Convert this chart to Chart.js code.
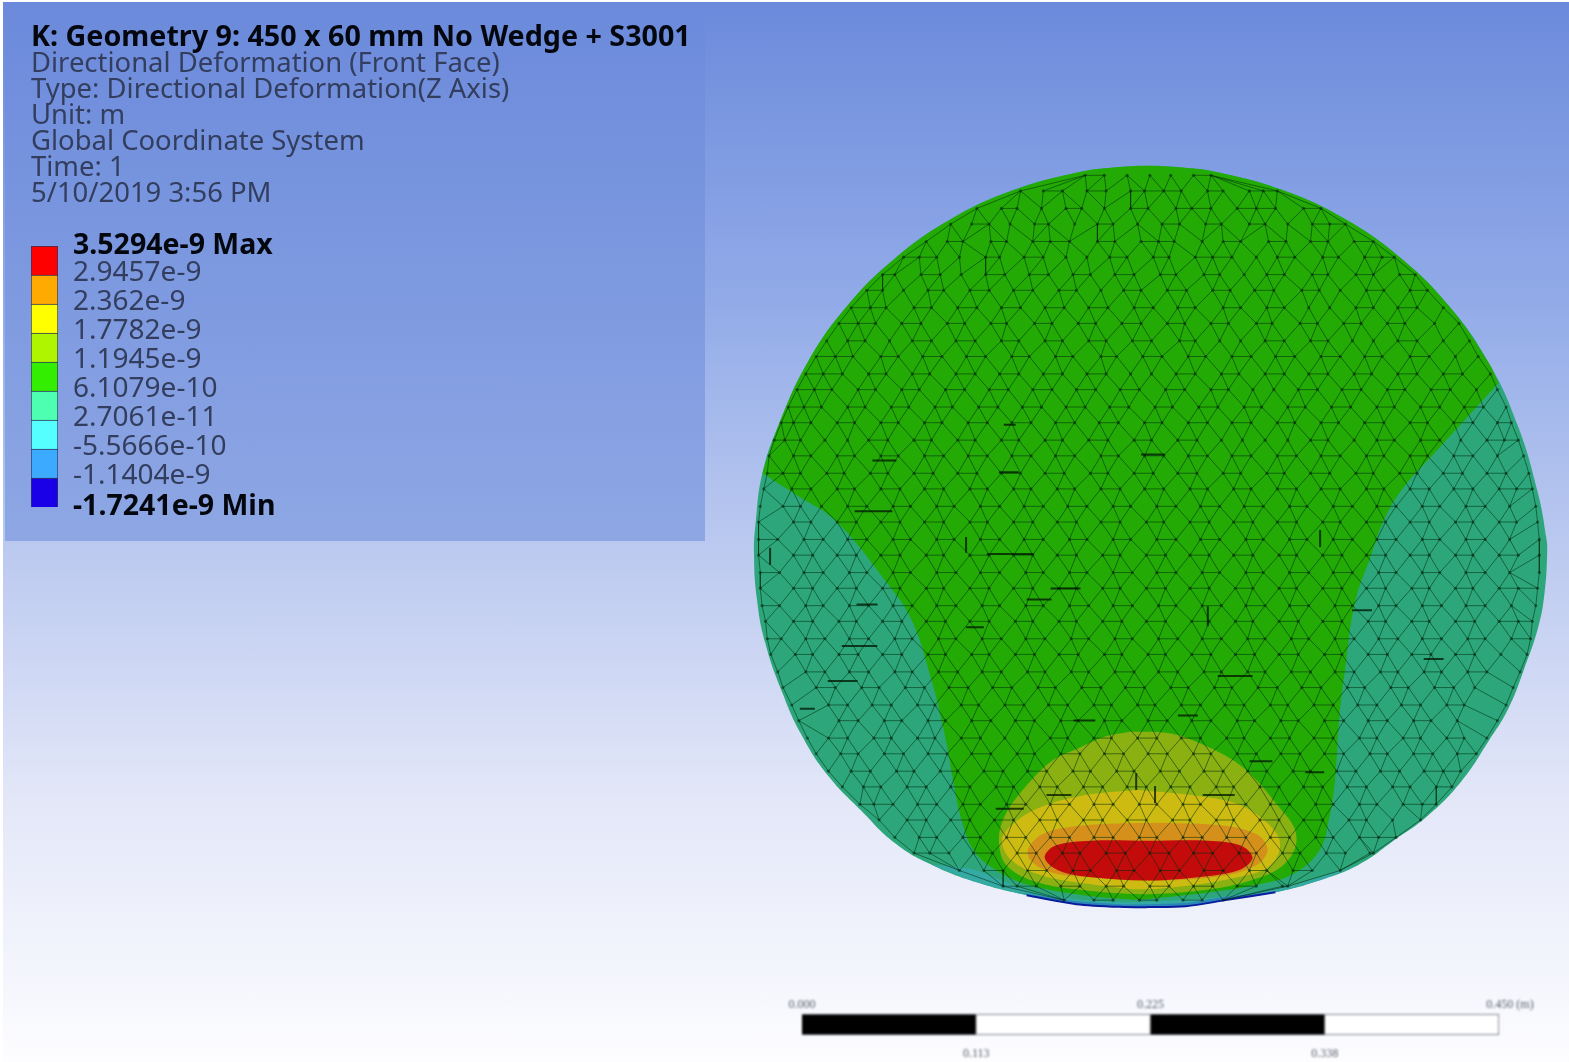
<!DOCTYPE html>
<html>
<head>
<meta charset="utf-8">
<title>Directional Deformation</title>
<script src="https://cdn.jsdelivr.net/npm/chart.js@4"></script>
<style>
  html, body { margin: 0; padding: 0; background: #fff; overflow: hidden; }
  #stage {
    position: relative; width: 1569px; height: 1062px; overflow: hidden;
    filter: blur(0.75px);
  }
  #bg {
    position: absolute; left: 3px; top: 2px; right: 0; bottom: 0;
    background: linear-gradient(#6b8adb 0, #92abe8 300px, #bccaf0 550px, #e3e7f8 800px, #fdfdff 1060px);
  }
  #panel {
    position: absolute; left: 5px; top: 2px; width: 700px; height: 539px;
    background: linear-gradient(#6b8adb, #8ea7e4);
  }
  canvas { position: absolute; display: block; }
  #scaleBar { filter: blur(0.8px); }
  #header { position: absolute; left: 31px; top: 22px; font-family: "Noto Sans", sans-serif; white-space: nowrap; }
  #header div { height: 26px; line-height: 26px; font-size: 28px; color: #333e5e; transform-origin: left center; transform: scaleX(0.98); }
  #header div.title { font-weight: 700; color: #05070f; transform: scaleX(1.024); }
</style>
</head>
<body>
<div id="stage">
  <div id="bg"></div>
  <div id="panel"></div>
  <canvas id="contour" width="1569" height="1062" style="left:0;top:0"></canvas>
  <div id="header"></div>
  <canvas id="legendBar" width="400" height="300" style="left:0;top:225px"></canvas>
  <canvas id="scaleBar" width="799" height="72" style="left:770px;top:990px"></canvas>
</div>

<script>
// --- Text ---
const headerLines = [
    'K: Geometry 9: 450 x 60 mm No Wedge + S3001',
    'Directional Deformation (Front Face)',
    'Type: Directional Deformation(Z Axis)',
    'Unit: m',
    'Global Coordinate System',
    'Time: 1',
    '5/10/2019 3:56 PM'
];

// --- Legend, bottom to top ---
const legendLabels = ['-1.7241e-9 Min', '-1.1404e-9', '-5.5666e-10', '2.7061e-11', '6.1079e-10', '1.1945e-9', '1.7782e-9', '2.362e-9', '2.9457e-9', '3.5294e-9 Max'];
const legendColors = ['#1a00e6', '#3cabff', '#55ffff', '#4dffb0', '#33ee00', '#b0f500', '#ffff00', '#ffaa00', '#ff0000'];

// --- Scale bar ---
const scaleSegments = [0.1125, 0.1125, 0.1125, 0.1125];
const scaleColors = ['#000000', '#ffffff', '#000000', '#ffffff'];
const scaleTopValues = [0, 0.225, 0.45];
const scaleTopLabels = ['0.000', '0.225', '0.450 (m)'];
const scaleBottomValues = [0.1125, 0.3375];
const scaleBottomLabels = ['0.113', '0.338'];

// --- Contour bands, model coordinates in mm ---
const discX = [0, 19.6, 39.1, 77, 112.5, 144.6, 172.4, 194.9, 211.4, 223, 228, 228.5, 227, 223.5, 215.3, 206.2, 194.8, 179.4, 160.6, 141.3, 120.8, 99.7, 72.9, 44.4, 21.6, 0, -12.5, -41, -69.5, -98, -124.2, -145.2, -164, -183.4, -198.2, -209.6, -219.3, -223.9, -225.6, -224.6, -220.8, -211.4, -194.9, -172.4, -144.6, -112.5, -77, -39.1, -19.6, 0];
const discY = [212.5, 211.5, 208.9, 198.5, 182, 159.5, 131.8, 99.6, 64, 25.4, -1.1, -9.7, -32.5, -51.8, -76.3, -99.1, -117.9, -140.7, -160.1, -174.3, -188.5, -197.1, -204.5, -209, -212.5, -213, -213, -211.3, -206.2, -198.8, -188.5, -176, -157.8, -137.3, -114.5, -89.4, -60.9, -36.5, -9.7, 8, 36, 64, 99.6, 131.8, 159.5, 182, 198.5, 208.9, 211.5, 212.5];

// Corner points are listed twice so the curve turns sharply there
const greenX = [-220.8, -220.8, -201.1, -179.4, -150.9, -135.6, -124.2, -116.8, -111.1, -107.1, -99.7, -86.6, -69.5, -41, -12.5, -2.8, 35.3, 63.8, 82.6, 98, 103.7, 107.1, 109.4, 112.8, 118.5, 128.2, 135, 145.8, 166.3, 200.5, 200.5, 194.9, 172.4, 144.6, 112.5, 77, 39.1, 19.6, 0, -19.6, -39.1, -77, -112.5, -144.6, -172.4, -194.9, -211.4, -220.8, -220.8];
const greenY = [36, 36, 23.4, 9.1, -25.1, -47.8, -82, -112.2, -143, -161.8, -180.6, -192, -199.9, -205.6, -208.5, -208.5, -204.5, -199.9, -194.2, -180.6, -161.8, -139, -104.8, -76.3, -38.2, -9.7, 9.1, 27.3, 50.1, 87.7, 87.7, 99.6, 131.8, 159.5, 182, 198.5, 208.9, 211.5, 212.5, 211.5, 208.9, 198.5, 182, 159.5, 131.8, 99.6, 64, 36, 36];

const cyanX = [-124.2, -99.7, -69.5, -41, -12.5, 35.3, 82.6, 120.8, 99.7, 72.9, 44.4, 21.6, 0, -12.5, -41, -69.5, -98, -124.2];
const cyanY = [-188.5, -191.4, -203.3, -208.5, -210.2, -207.9, -200.5, -188.5, -197.1, -204.5, -209, -212.5, -213, -213, -211.3, -206.2, -198.8, -188.5];

const blueX = [-75, -41, -12.5, 21.6, 44.4, 72.9, 44.4, 21.6, 0, -12.5, -41, -75];
const blueY = [-204.5, -209.5, -211.5, -210.5, -207, -204.5, -209, -212.5, -213, -213, -211.3, -204.5];

const rimX = [-69.5, -41, -12.5, 0, 21.6, 44.4, 72.9];
const rimY = [-206.2, -211.3, -213, -213, -212.5, -209, -204.5];

const limeX = [-9.7, 13.1, 32.5, 49.6, 62.7, 74, 83.7, 84.3, 75.8, 58.7, 35.9, -1.7, -41.6, -66.6, -81.5, -85.4, -82.6, -72.3, -55.3, -39.9, -24.5, -9.7];
const limeY = [-112.2, -113.4, -120.2, -129.3, -140.7, -154.4, -167.5, -178.9, -190.2, -197.7, -202.8, -205.6, -202.8, -197.7, -188.5, -174.9, -161.8, -146.4, -129.3, -121.9, -115.1, -112.2];

const yellowX = [-5.7, 24.5, 49.6, 62.7, 74, 75.2, 68.4, 51.3, 24.5, -4, -32.5, -60.9, -78, -83.7, -78, -62.7, -35.9, -5.7];
const yellowY = [-145.8, -148.7, -153.2, -160.1, -171.5, -180.6, -190.2, -195.9, -200.5, -202.8, -199.9, -194.8, -186.3, -174.9, -165.8, -156.1, -148.7, -145.8];

const orangeX = [5.7, 43.9, 62.7, 68.4, 62.7, 43.9, 5.7, -32.5, -55.3, -67.2, -68.4, -58.7, -32.5, 5.7];
const orangeY = [-164.6, -166.3, -171.5, -180, -188.5, -194.8, -197.7, -195.9, -193.1, -186.3, -178.9, -170.3, -165.8, -164.6];

const redX = [0, 34.2, 53, 59.8, 53, 32.5, 0, -32.5, -51.3, -59.2, -53, -32.5, 0];
const redY = [-174.9, -174.9, -177.7, -184.6, -191.4, -195.4, -197.7, -195.9, -192, -184.6, -177.7, -174.9, -174.9];

// --- Mesh nodes ---
const meshRowY = [207, 198, 188, 179, 169, 160, 150, 141, 131, 122, 112, 103, 93, 84, 74, 65, 55, 46, 36, 27, 17, 8, -2, -11, -21, -30, -40, -49, -59, -68, -78, -87, -97, -106, -116, -125, -135, -144, -154, -163, -173, -182, -192, -201, -209];
const meshRowX = [
    [-36, -25, -12, 1, 13, 26, 36],
    [-73, -60, -49, -35, -24, -10, -2, 9, 19, 34, 43, 58, 66, 74],
    [-98, -84, -75, -61, -47, -38, -25, -10, 0, 16, 25, 36, 51, 62, 73, 89, 99],
    [-113, -101, -91, -79, -65, -57, -42, -29, -20, -6, 8, 18, 33, 42, 58, 67, 80, 94, 104, 113],
    [-127, -115, -106, -90, -81, -66, -56, -45, -29, -19, -4, 6, 15, 31, 43, 53, 69, 79, 93, 103, 118, 129],
    [-140, -131, -121, -108, -93, -85, -71, -60, -47, -35, -22, -12, 3, 12, 27, 37, 48, 62, 74, 84, 100, 109, 124, 134, 141],
    [-152, -145, -130, -119, -107, -93, -82, -68, -57, -43, -33, -19, -8, 7, 16, 32, 41, 55, 68, 78, 94, 103, 119, 129, 144, 153],
    [-161, -152, -140, -126, -117, -102, -91, -77, -66, -51, -41, -27, -14, -4, 11, 22, 37, 47, 61, 72, 88, 98, 110, 125, 135, 150, 160],
    [-170, -159, -150, -134, -124, -109, -98, -84, -73, -59, -48, -34, -23, -8, 3, 17, 27, 43, 53, 68, 78, 92, 104, 119, 129, 143, 154, 169],
    [-177, -166, -156, -141, -130, -115, -105, -90, -81, -65, -55, -40, -30, -15, -4, 11, 21, 36, 46, 62, 71, 87, 97, 112, 122, 137, 147, 164, 178],
    [-184, -172, -162, -148, -135, -124, -110, -99, -84, -74, -59, -49, -34, -24, -9, 2, 18, 27, 41, 53, 67, 78, 93, 103, 117, 129, 143, 154, 169, 184],
    [-190, -179, -169, -153, -143, -129, -118, -104, -93, -78, -68, -53, -43, -27, -18, -3, 8, 23, 33, 48, 59, 73, 84, 99, 110, 124, 134, 150, 161, 176, 189],
    [-196, -186, -175, -160, -150, -135, -125, -110, -99, -85, -74, -60, -49, -35, -24, -10, 2, 16, 27, 42, 52, 67, 78, 92, 103, 118, 128, 143, 154, 169, 180, 196],
    [-201, -191, -181, -166, -156, -141, -131, -116, -105, -91, -80, -66, -55, -41, -30, -16, -5, 10, 21, 36, 46, 60, 72, 86, 97, 111, 122, 137, 147, 162, 173, 188, 200],
    [-206, -197, -187, -172, -162, -147, -137, -122, -112, -97, -86, -72, -61, -47, -36, -22, -11, 4, 14, 29, 40, 55, 65, 80, 90, 105, 116, 131, 141, 156, 167, 181, 192, 205],
    [-210, -203, -193, -178, -168, -153, -143, -128, -118, -103, -92, -78, -67, -53, -42, -28, -17, -2, 8, 23, 34, 48, 59, 74, 84, 99, 109, 124, 135, 150, 160, 175, 186, 200, 208],
    [-214, -208, -199, -185, -172, -160, -149, -134, -124, -109, -99, -84, -74, -59, -49, -34, -23, -8, 2, 17, 28, 42, 54, 67, 80, 93, 103, 118, 131, 141, 156, 167, 179, 194, 204, 212],
    [-217, -203, -193, -178, -168, -153, -143, -128, -117, -103, -92, -78, -67, -53, -42, -27, -17, -2, 9, 23, 34, 48, 59, 74, 85, 99, 110, 125, 135, 150, 160, 175, 186, 200, 215],
    [-218, -209, -199, -184, -174, -159, -149, -134, -123, -109, -98, -84, -73, -59, -48, -33, -23, -8, 3, 17, 28, 43, 53, 68, 78, 93, 104, 119, 129, 144, 154, 169, 180, 194, 205, 218],
    [-220, -204, -193, -178, -168, -153, -142, -128, -117, -102, -92, -77, -67, -52, -42, -27, -16, -2, 9, 24, 34, 49, 59, 74, 85, 99, 110, 125, 135, 150, 161, 175, 186, 201, 211, 220],
    [-222, -209, -199, -187, -172, -161, -146, -136, -121, -111, -96, -85, -71, -60, -46, -35, -20, -10, 5, 16, 30, 41, 55, 66, 81, 91, 106, 117, 131, 142, 157, 167, 182, 193, 207, 222],
    [-223, -203, -193, -178, -167, -153, -142, -128, -117, -102, -92, -77, -66, -52, -41, -27, -16, -1, 9, 24, 35, 49, 60, 74, 85, 100, 110, 125, 136, 150, 161, 176, 186, 201, 211, 223],
    [-223, -212, -197, -186, -172, -161, -146, -136, -121, -111, -96, -85, -71, -60, -45, -35, -20, -10, 5, 16, 30, 41, 56, 66, 81, 91, 106, 117, 131, 142, 157, 167, 182, 193, 207, 224],
    [-223, -203, -192, -178, -167, -153, -142, -127, -117, -102, -91, -77, -66, -52, -41, -26, -16, -1, 10, 24, 35, 49, 60, 75, 85, 100, 111, 125, 136, 150, 161, 176, 186, 201, 212, 224],
    [-222, -211, -197, -186, -171, -161, -146, -136, -121, -110, -96, -85, -70, -60, -45, -35, -20, -9, 5, 16, 31, 41, 56, 66, 81, 92, 106, 117, 132, 142, 157, 167, 182, 193, 207, 224],
    [-222, -203, -192, -178, -167, -152, -142, -127, -117, -102, -91, -77, -66, -51, -41, -26, -16, -1, 10, 24, 35, 50, 60, 75, 85, 100, 111, 125, 136, 151, 161, 176, 186, 201, 212, 223],
    [-221, -211, -196, -186, -171, -160, -146, -135, -121, -110, -95, -85, -70, -60, -45, -34, -20, -9, 6, 16, 31, 42, 56, 67, 81, 92, 107, 117, 132, 142, 157, 168, 182, 193, 208, 222],
    [-219, -203, -192, -177, -167, -152, -141, -127, -116, -102, -91, -76, -66, -51, -41, -26, -15, -1, 10, 25, 35, 50, 60, 75, 86, 100, 111, 126, 136, 151, 161, 176, 187, 201, 212, 220],
    [-218, -210, -196, -185, -171, -160, -145, -135, -120, -110, -95, -84, -70, -59, -44, -34, -19, -9, 6, 17, 31, 42, 57, 67, 82, 92, 107, 118, 132, 143, 157, 168, 183, 193, 208, 219],
    [-216, -202, -192, -177, -166, -152, -141, -126, -116, -101, -91, -76, -65, -51, -40, -25, -15, 0, 10, 25, 36, 50, 61, 75, 86, 101, 111, 126, 137, 151, 162, 176, 187, 202, 217],
    [-212, -196, -185, -171, -160, -145, -135, -120, -109, -95, -84, -69, -59, -44, -34, -19, -8, 6, 17, 32, 42, 57, 67, 82, 93, 107, 118, 133, 143, 158, 168, 183, 194, 213],
    [-209, -190, -179, -164, -154, -139, -128, -114, -103, -89, -78, -63, -53, -38, -27, -13, -2, 13, 23, 38, 48, 63, 74, 88, 99, 114, 124, 139, 149, 164, 175, 187, 209],
    [-204, -183, -172, -158, -147, -132, -122, -107, -97, -82, -71, -57, -46, -31, -21, -6, 4, 19, 30, 44, 55, 70, 80, 95, 106, 120, 131, 145, 156, 171, 181, 205],
    [-200, -177, -166, -151, -141, -126, -116, -101, -90, -76, -65, -50, -40, -25, -15, 0, 11, 25, 36, 51, 61, 76, 86, 101, 112, 126, 137, 152, 162, 177, 200],
    [-195, -183, -172, -157, -147, -132, -122, -107, -96, -82, -69, -56, -46, -31, -21, -6, 5, 19, 30, 45, 55, 70, 81, 95, 106, 121, 131, 146, 156, 171, 181, 194],
    [-190, -176, -166, -151, -140, -126, -115, -101, -90, -75, -65, -50, -39, -25, -14, 0, 11, 26, 36, 51, 62, 76, 87, 101, 112, 127, 137, 152, 163, 177, 188],
    [-183, -170, -159, -144, -134, -119, -109, -94, -83, -69, -58, -43, -33, -18, -8, 7, 18, 32, 43, 57, 68, 83, 93, 108, 119, 133, 144, 158, 169, 179],
    [-175, -163, -153, -138, -127, -113, -102, -87, -77, -62, -52, -37, -26, -12, -1, 13, 24, 39, 49, 64, 75, 89, 100, 114, 125, 140, 150, 165, 174],
    [-165, -157, -146, -132, -121, -106, -96, -81, -70, -56, -45, -31, -20, -5, 5, 20, 30, 45, 56, 70, 81, 96, 106, 121, 131, 146, 157, 165],
    [-154, -138, -127, -113, -102, -88, -77, -62, -52, -37, -26, -12, -1, 14, 24, 39, 49, 64, 75, 89, 100, 115, 125, 140, 156],
    [-145, -131, -121, -106, -96, -81, -70, -56, -45, -31, -20, -5, 5, 20, 31, 45, 56, 70, 81, 96, 106, 121, 132, 142],
    [-134, -125, -114, -100, -89, -75, -64, -49, -39, -24, -13, 1, 12, 26, 37, 52, 62, 77, 87, 102, 113, 127, 129],
    [-108, -94, -83, -69, -58, -43, -33, -18, -8, 7, 18, 32, 43, 58, 68, 83, 94, 110],
    [-83, -75, -64, -50, -39, -24, -14, 1, 12, 26, 37, 51, 62, 77, 80],
    [-48, -31, -20, -5, 5, 20, 31, 43]
];

// Short dark horizontal and vertical strokes that stand out in the mesh
const dashX1 = [-175.4, -183.4, -92.3, -55.8, -69.5, -104.2, -42.7, -87.2, -58.1, -199.4, -166.9, 39.9, 157.8, 116.8, 58.1, 31.3, 17.1, 90, -85.4, -4, -82.6, -157.8, -168];
const dashX2 = [-155, -166.3, -65.5, -38.7, -55.3, -94, -30.2, -71.2, -43.9, -190.8, -154.9, 59.8, 169.2, 128.2, 71.2, 49.6, 28.5, 100.8, -74, 9.7, -75.8, -144.1, -146.4];
const dashY = [-63.2, -83.2, -10.3, -30.2, -36.5, -52.4, -105.9, -156.6, -148.7, -99.1, -39.3, -80.3, -70.6, -42.7, -129.3, -148.7, -103.1, -135.6, 36.5, 46.7, 63.8, 43.3, 14.2];
const tickX = [-216.4, -104.2, 34.2, 98.5, 4, -6.8];
const tickY1 = [-6.8, -0.6, -40.4, 3.4, -143.5, -136];
const tickY2 = [-16.5, -9.7, -51.8, -6.3, -153.2, -145.8];

// --- Helpers ---
function toPoints(xs, ys) {
    return xs.map((x, i) => ({ x: x, y: ys[i] }));
}

function band(label, xs, ys, color, tension) {
    return {
        label: label,
        data: toPoints(xs, ys),
        showLine: true,
        fill: 'shape',
        backgroundColor: color,
        borderColor: color,
        borderWidth: 0,
        pointRadius: 0,
        tension: tension
    };
}

// Connect the typed nodes: short edges along each row, then a zigzag between neighbouring rows
function buildMeshEdges() {
    const edges = [];
    const gap = { x: NaN, y: NaN };
    const addEdge = (x1, y1, x2, y2) => {
        edges.push({ x: x1, y: y1 }, { x: x2, y: y2 }, gap);
    };
    meshRowX.forEach((row, r) => {
        const y = meshRowY[r];
        for (let i = 0; i < row.length - 1; i++) {
            if (row[i + 1] - row[i] <= 11) addEdge(row[i], y, row[i + 1], y);
        }
        if (r === meshRowX.length - 1) return;
        const next = meshRowX[r + 1];
        const nextY = meshRowY[r + 1];
        let a = 0;
        let b = 0;
        addEdge(row[a], y, next[b], nextY);
        while (a < row.length - 1 || b < next.length - 1) {
            const advanceA = b >= next.length - 1 || (a < row.length - 1 && row[a + 1] <= next[b + 1]);
            if (advanceA) a++; else b++;
            addEdge(row[a], y, next[b], nextY);
        }
    });
    return edges;
}

function buildMeshNodes() {
    const nodes = [];
    meshRowX.forEach((row, r) => row.forEach(x => nodes.push({ x: x, y: meshRowY[r] })));
    return nodes;
}

function buildDashes() {
    const pts = [];
    const gap = { x: NaN, y: NaN };
    dashY.forEach((y, i) => pts.push({ x: dashX1[i], y: y }, { x: dashX2[i], y: y }, gap));
    tickX.forEach((x, i) => pts.push({ x: x, y: tickY1[i] }, { x: x, y: tickY2[i] }, gap));
    return pts;
}

// --- Header ---
const headerEl = document.getElementById('header');
headerLines.forEach((line, i) => {
    const div = document.createElement('div');
    div.textContent = line;
    if (i === 0) div.className = 'title';
    headerEl.appendChild(div);
});

Chart.defaults.animation = false;
Chart.defaults.responsive = false;
Chart.defaults.devicePixelRatio = 1;
Chart.defaults.plugins.legend.display = false;
Chart.defaults.plugins.tooltip.enabled = false;

// --- Contour plot ---
const contourSets = [
    {
        label: 'dashes',
        data: buildDashes(),
        showLine: true,
        borderColor: 'rgba(0,20,0,0.75)',
        borderWidth: 2,
        pointRadius: 0,
        spanGaps: false
    },
    {
        label: 'nodes',
        data: buildMeshNodes(),
        showLine: false,
        backgroundColor: 'rgba(0,30,5,0.5)',
        borderWidth: 0,
        pointRadius: 1.6
    },
    {
        label: 'mesh',
        data: buildMeshEdges(),
        showLine: true,
        borderColor: 'rgba(0,45,15,0.55)',
        borderWidth: 1,
        pointRadius: 0,
        spanGaps: false
    },
    band('red', redX, redY, '#c20b0a', 0.35),
    band('orange', orangeX, orangeY, '#d4901a', 0.35),
    band('yellow', yellowX, yellowY, '#cdbb12', 0.35),
    band('lime', limeX, limeY, '#8ab012', 0.35),
    {
        label: 'rim',
        data: toPoints(rimX, rimY),
        showLine: true,
        borderColor: '#0a1c9c',
        borderWidth: 2,
        pointRadius: 0,
        tension: 0.3
    },
    band('blue', blueX, blueY, '#2b86b8', 0.2),
    band('cyan', cyanX, cyanY, '#35aaa5', 0.2),
    band('green', greenX, greenY, '#23aa05', 0.4),
    band('teal', discX, discY, '#2da67c', 0.45)
];
contourSets.forEach((set, i) => { set.order = i; });

new Chart(document.getElementById('contour'), {
    type: 'scatter',
    data: { datasets: contourSets },
    options: {
        layout: { padding: 0 },
        scales: {
            x: { type: 'linear', display: false, min: -655, max: 238.7 },
            y: { type: 'linear', display: false, min: -299.6, max: 305.3 }
        }
    }
});

// --- Legend colour bar ---
const legendTextPlugin = {
    id: 'legendText',
    afterDraw(chart) {
        const ctx = chart.ctx;
        const yScale = chart.scales.y;
        const last = legendLabels.length - 1;
        ctx.save();
        ctx.textBaseline = 'middle';
        ctx.textAlign = 'left';
        legendLabels.forEach((label, i) => {
            const bold = i === 0 || i === last;
            ctx.font = (bold ? '700 28.5px' : '28px') + ' "Noto Sans", sans-serif';
            ctx.fillStyle = bold ? '#05070f' : '#333e5e';
            const lift = bold ? 0 : 2;
            ctx.fillText(label, 73, yScale.getPixelForValue(i) - lift);
        });
        ctx.restore();
    }
};

new Chart(document.getElementById('legendBar'), {
    type: 'bar',
    data: {
        labels: ['legend'],
        datasets: legendColors.map((color, i) => ({
            label: legendLabels[i],
            data: [1],
            backgroundColor: color,
            borderColor: 'rgba(20,20,50,0.75)',
            borderWidth: 1,
            barPercentage: 1,
            categoryPercentage: 1
        }))
    },
    options: {
        layout: { padding: { left: 31, right: 342, top: 21, bottom: 18 } },
        scales: {
            x: { stacked: true, display: false },
            y: { stacked: true, display: false, min: 0, max: 9 }
        }
    },
    plugins: [legendTextPlugin]
});

// --- Scale bar ---
const scaleTextPlugin = {
    id: 'scaleText',
    afterDraw(chart) {
        const ctx = chart.ctx;
        const xScale = chart.scales.x;
        ctx.save();
        ctx.font = '12px "Liberation Serif", serif';
        ctx.fillStyle = '#555b66';
        ctx.textBaseline = 'middle';
        ctx.textAlign = 'center';
        scaleTopValues.forEach((value, i) => {
            const shift = i === 2 ? 11 : 0;
            ctx.fillText(scaleTopLabels[i], xScale.getPixelForValue(value) + shift, 15);
        });
        scaleBottomValues.forEach((value, i) => {
            ctx.fillText(scaleBottomLabels[i], xScale.getPixelForValue(value), 64);
        });
        ctx.restore();
    }
};

new Chart(document.getElementById('scaleBar'), {
    type: 'bar',
    data: {
        labels: ['scale'],
        datasets: scaleSegments.map((value, i) => ({
            label: 'segment ' + (i + 1),
            data: [value],
            backgroundColor: scaleColors[i],
            borderColor: '#5a5f68',
            borderWidth: 1,
            barPercentage: 1,
            categoryPercentage: 1
        }))
    },
    options: {
        indexAxis: 'y',
        layout: { padding: { left: 32, right: 70, top: 24, bottom: 27 } },
        scales: {
            x: { stacked: true, display: false, min: 0, max: 0.45 },
            y: { stacked: true, display: false }
        }
    },
    plugins: [scaleTextPlugin]
});
</script>
</body>
</html>
